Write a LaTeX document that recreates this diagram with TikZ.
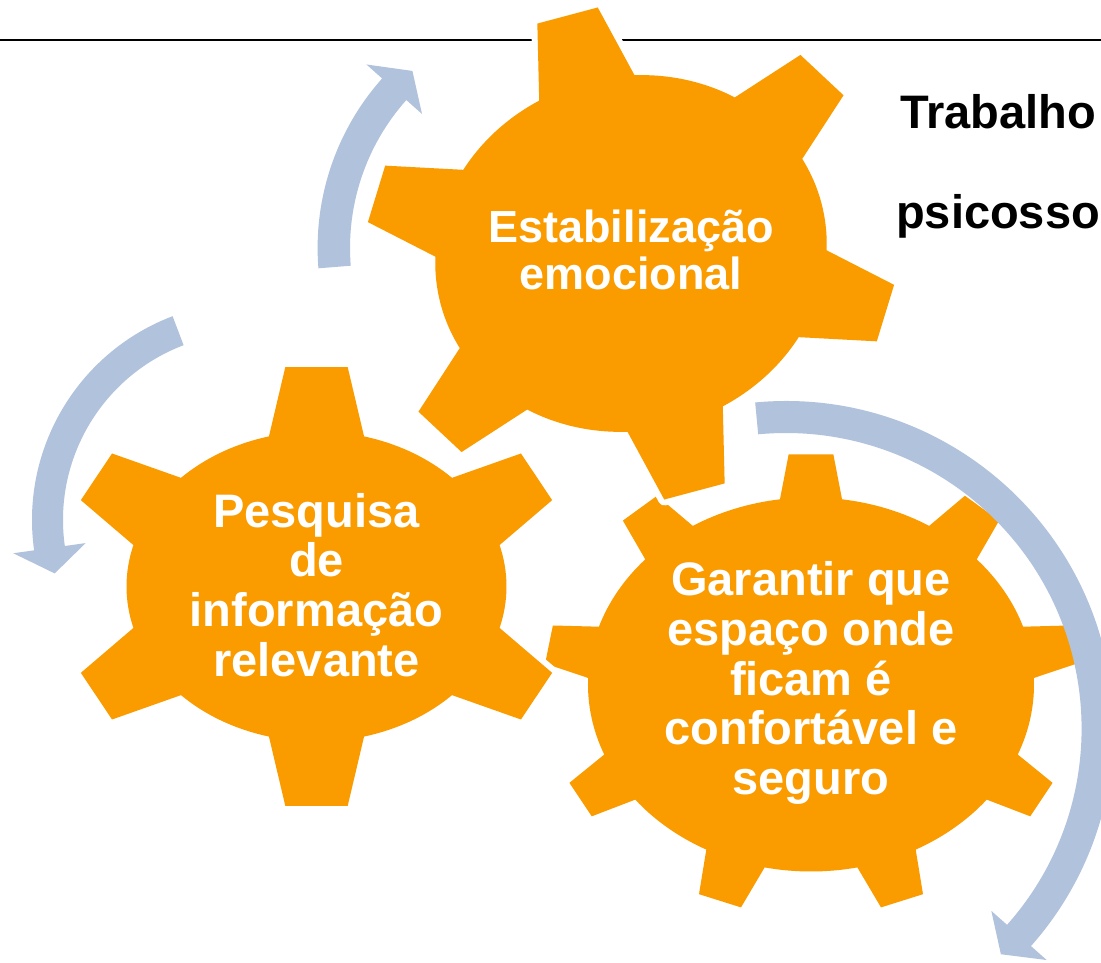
\documentclass[tikz,border=0pt]{standalone}
\usepackage{fontspec}
\setmainfont{Liberation Sans}
\usepackage{tikz}

\definecolor{gearorange}{RGB}{250,155,0}
\definecolor{cycleblue}{RGB}{177,194,220}

% gear: centre x, centre y, rotation, x radius, y radius, tooth height, teeth, root half angle, tip half angle
\newcommand{\drawgear}[9]{%
  \begin{scope}[shift={(#1,#2)}, rotate=#3]
    \pgfmathsetmacro{\tstep}{360/#7}
    \pgfmathtruncatemacro{\tlast}{#7-1}
    \fill[gearbody] (90-#8:#4 and #5)
      \foreach \k in {0,...,\tlast} {
        -- ({90+\k*\tstep-#9}:{#4+#6} and {#5+#6})
        -- ({90+\k*\tstep+#9}:{#4+#6} and {#5+#6})
        -- ({90+\k*\tstep+#8}:#4 and #5)
        arc[start angle={90+\k*\tstep+#8}, end angle={90+(\k+1)*\tstep-#8}, x radius=#4pt, y radius=#5pt]
      } -- cycle;
  \end{scope}}

% round arrow: centre, inner radius, outer radius, start angle, end angle, tip angle
\newcommand{\drawcycle}[6]{%
  \begin{scope}[shift={#1}]
    \fill[cyclearrow] (#4:#3) arc[start angle=#4, end angle=#5, radius=#3pt]
      -- (#5:{#3+21}) -- (#6:{(#2+#3)/2}) -- (#5:{#2-21}) -- (#5:#2)
      arc[start angle=#5, end angle=#4, radius=#2pt] -- cycle;
  \end{scope}}

\begin{document}
\begin{tikzpicture}[x=1pt, y=1pt,
    gearbody/.style={fill=gearorange, preaction={draw=white, line width=12pt, line join=round}},
    cyclearrow/.style={fill=cycleblue},
    geartext/.style={text=white, align=center, inner sep=0pt, font=\fontsize{47}{49.7}\selectfont\bfseries},
    sidetext/.style={anchor=base west, inner sep=0pt, font=\fontsize{47}{49.7}\selectfont\bfseries}]
  \clip (0,0) rectangle (1101,963);
  \fill[white] (0,0) rectangle (1101,963);

  % rule at the top
  \draw[line width=2pt] (0,923) -- (1101,923);

  % gears
  \drawgear{811}{278.5}{0}{223}{187}{44}{9}{8}{4.8}
  \drawgear{316.5}{376.5}{0}{190}{155}{66}{6}{14.5}{7}
  \drawgear{631}{709.5}{14.93}{197}{177}{71}{6}{14.5}{6.7}

  % arrows
  \drawcycle{(572.3,715.1)}{222.3}{254.7}{184.6}{138.3}{132.1}
  \drawcycle{(250,443)}{187}{218}{110.8}{188}{195.3}
  \drawcycle{(786,234.4)}{295.6}{327.6}{95.4}{-41.6}{-46.4}

  % texts
  \node[geartext, font=\fontsize{45}{46.8}\selectfont\bfseries] (stab) at (631,713) {Estabilização\\emocional};
  \node[geartext] (pesq) at (316.5,378) {Pesquisa\\de\\informação\\relevante};
  \node[geartext] (garant) at (811,280) {Garantir que\\espaço onde\\ficam é\\confortável e\\seguro};
  \node[sidetext] (trab) at (900,834.7) {Trabalho};
  \node[sidetext] (psico) at (896,734.7) {psicosso};
\end{tikzpicture}
\end{document}
